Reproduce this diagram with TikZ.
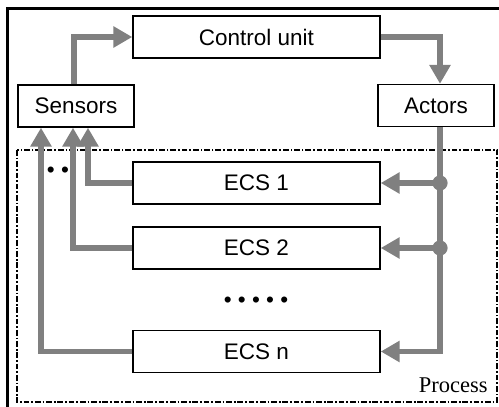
\documentclass[tikz,border=0pt]{standalone}
\usepackage{fontspec}
\setmainfont{Liberation Sans}
\newfontfamily\procfont{Liberation Serif}
\usetikzlibrary{arrows.meta}

\tikzset{
	block/.style={draw, line width=1pt, fill=white, minimum height=1.05cm, inner sep=0pt, font=\fontsize{16}{19}\selectfont},
	wideblock/.style={block, minimum width=6.175cm},
	smallblock/.style={block, minimum width=2.9cm},
	flow/.style={draw=gray, line width=4.1pt, -{Triangle[length=13.5pt,width=14.5pt]}},
	junction/.style={fill=gray},
	process/.style={line width=1.1pt, dash pattern=on 4pt off 1.4pt on 1.2pt off 1.4pt},
	dots/.style={font=\fontsize{16}{19}\selectfont, inner sep=0pt}
}

\begin{document}
\begin{tikzpicture}[x=0.025cm, y=-0.025cm]
\useasboundingbox (0,0) rectangle (499,407);

%% Rahmen
\draw[line width=1.8pt] (7.5,407) -- (7.5,8.5) -- (499,8.5);
\draw[process] (17,150) rectangle (497,402);
\node[anchor=base east, font=\procfont\fontsize{16}{19}\selectfont, inner sep=0pt] (proc) at (488,392) {Process};

%% Bloecke
\node[wideblock] (control) at (256.5,37) {Control unit};
\node[smallblock] (sensors) at (76,106) {Sensors};
\node[smallblock] (actors) at (436,105.5) {Actors};
\node[wideblock] (ecs1) at (256.5,183) {ECS 1};
\node[wideblock] (ecs2) at (256.5,248) {ECS 2};
\node[wideblock] (ecsn) at (256.5,351.5) {ECS n};
\node[dots] (more) at (256,302) {• • • • •};
\node[dots] (morein) at (58,172) {• •};

%% Regelkreis
\draw[flow] ([xshift=-0.05cm]sensors.north) |- (control.west);
\draw[flow] (control.east) -| ([xshift=0.1cm]actors.north);
\coordinate (bus) at ([xshift=0.1cm]actors.south);
\draw[flow] (bus) |- (ecsn.east);
\draw[flow] (bus |- ecs1.east) -- (ecs1.east);
\draw[flow] (bus |- ecs2.east) -- (ecs2.east);
\fill[junction] (bus |- ecs1.east) circle[radius=0.19cm];
\fill[junction] (bus |- ecs2.east) circle[radius=0.19cm];

%% Rueckfuehrung
\draw[flow] (ecs1.west) -| ([xshift=0.3cm]sensors.south);
\draw[flow] (ecs2.west) -| ([xshift=-0.075cm]sensors.south);
\draw[flow] (ecsn.west) -| ([xshift=-0.875cm]sensors.south);

\end{tikzpicture}
\end{document}
